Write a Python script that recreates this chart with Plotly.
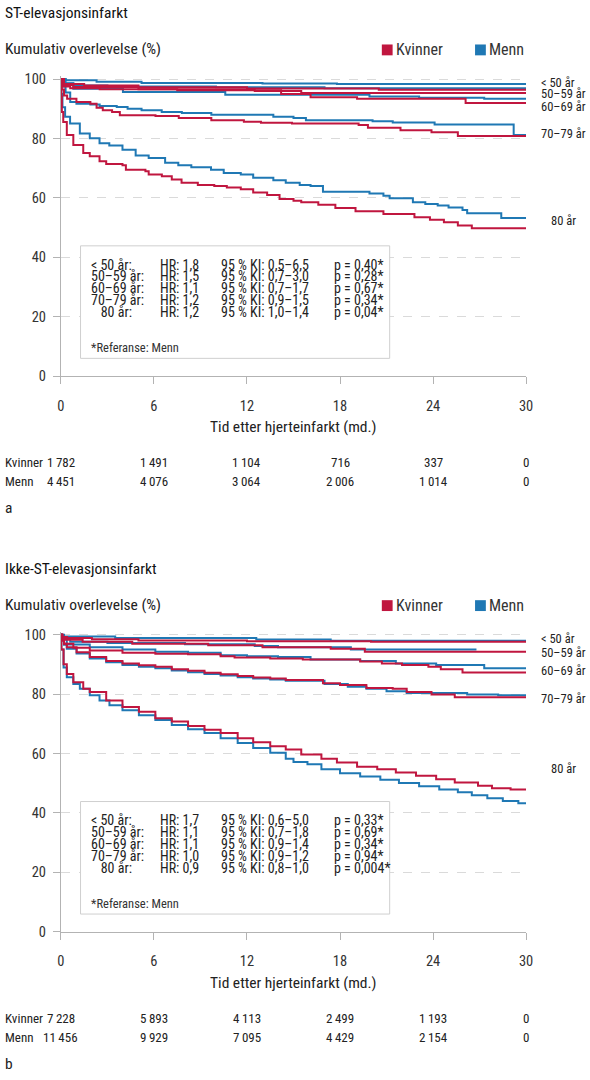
import plotly.graph_objects as go

W, H = 590, 1080
FONT = "Roboto Condensed, Roboto, sans-serif"
RED = "#c0163f"
BLUE = "#1f78b4"
GREY = "#b3b3b3"

# --- STEMI (panel a): Kaplan-Meier curves ---
a_k50_t = [0, 0.2, 1.5, 5.0, 12.0, 20.5, 30]
a_k50_s = [100, 98.3, 97.8, 97.2, 96.8, 96.4, 96.4]
a_m50_t = [0, 0.3, 2.3, 5.2, 13.0, 17.8, 30]
a_m50_s = [100, 99.6, 99.1, 98.7, 98.5, 98.3, 98.3]
a_k55_t = [0, 0.2, 0.8, 5.0, 12.5, 15.5, 30]
a_k55_s = [100, 98.0, 97.3, 96.6, 96.0, 95.3, 95.3]
a_m55_t = [0, 0.2, 0.8, 3.0, 10.0, 17.0, 30]
a_m55_s = [100, 98.6, 97.8, 97.5, 97.2, 96.9, 96.9]
a_k65_t = [0, 0.1, 0.6, 2.5, 7.5, 14.2, 16.1, 19.1, 26.1, 30]
a_k65_s = [100, 97.5, 96.9, 96.6, 96.2, 95.0, 93.9, 93.4, 91.9, 91.9]
a_m65_t = [0, 0.3, 0.8, 4.0, 10.6, 19.9, 23.1, 27.3, 30]
a_m65_s = [100, 98.5, 96.7, 95.6, 94.7, 94.1, 93.7, 93.4, 93.4]
a_k75_t = [0, 0.05, 0.2, 0.4, 1.0, 1.9, 2.3, 2.7, 3.3, 3.8, 6.1, 7.6, 9.7, 11.8, 12.9,
           14.9, 19.2, 19.8, 21.9, 23.9, 25.6, 30]
a_k75_s = [100, 96.5, 94.5, 93.4, 92.3, 91.7, 90.3, 89.5, 88.9, 87.8, 87.6, 86.9, 86.1, 85.6, 85.3,
           85.0, 84.5, 83.6, 82.8, 82.1, 80.8, 80.8]
a_m75_t = [0, 0.1, 0.3, 0.6, 1.0, 1.9, 2.5, 3.6, 4.3, 5.2, 6.5, 7.8, 9.7, 13.7, 15.0,
           15.8, 20.1, 21.4, 24.1, 29.2, 30]
a_m75_s = [100, 97.5, 95.5, 92.3, 91.7, 91.4, 90.9, 90.6, 90.0, 89.5, 88.9, 88.6, 88.0, 87.3, 86.9,
           86.1, 85.8, 85.4, 84.7, 81.2, 81.2]
a_k80_t = [0, 0.03, 0.06, 0.15, 0.38, 0.8, 1.44, 1.86, 2.49, 2.92, 3.97, 4.19, 5.45, 5.66, 6.51,
           7.15, 7.78, 8.83, 9.89, 10.7, 11.6, 12.4, 13.3, 14.1, 15.0, 15.5, 16.6, 17.7, 19.0,
           20.8, 22.8, 23.8, 24.7, 25.6, 26.5, 30]
a_k80_s = [100, 94.0, 88.9, 85.5, 81.2, 77.8, 75.1, 74.0, 72.3, 71.4, 71.0, 69.5, 69.0, 67.9, 67.3,
           66.2, 65.1, 64.3, 64.0, 63.5, 62.9, 61.8, 61.0, 59.6, 59.0, 58.5, 57.7, 56.6, 55.5,
           54.6, 53.5, 52.6, 51.8, 50.7, 49.8, 49.8]
a_m80_t = [0, 0.03, 0.1, 0.27, 0.59, 1.22, 1.86, 2.49, 3.12, 3.97, 4.82, 5.66, 6.72, 7.57, 8.41,
           9.68, 10.5, 11.6, 12.4, 13.7, 14.5, 15.4, 16.1, 16.9, 19.9, 20.8, 21.2, 22.7, 23.5,
           24.3, 25.0, 25.9, 26.2, 28.4, 30]
a_m80_s = [100, 95.0, 90.5, 87.3, 85.0, 81.7, 80.1, 78.4, 77.6, 76.2, 74.3, 73.4, 71.8, 71.0, 70.3,
           69.5, 68.4, 67.9, 66.8, 65.9, 65.1, 64.3, 64.0, 62.1, 61.5, 60.7, 59.9, 58.5, 57.9,
           57.4, 56.8, 55.9, 54.8, 53.2, 53.2]

# --- NSTEMI (panel b) ---
b_k50_t = [0, 0.1, 0.4, 2.0, 5.0, 12.0, 20.0, 30]
b_k50_s = [100, 99.2, 98.9, 98.5, 98.1, 97.8, 97.6, 97.6]
b_m50_t = [0, 0.2, 3.5, 12.6, 17.4, 30]
b_m50_s = [100, 99.4, 98.9, 98.4, 98.0, 98.0]
b_k55_t = [0, 0.1, 0.3, 1.4, 4.6, 9.5, 13.0, 17.4, 19.6, 30]
b_k55_s = [100, 99.0, 98.3, 97.6, 97.0, 96.5, 95.8, 95.3, 94.3, 94.3]
b_m55_t = [0, 0.1, 0.2, 0.6, 3.0, 8.0, 12.5, 14.0, 18.7, 26.8]
b_m55_s = [100, 99.2, 98.6, 97.6, 97.2, 96.8, 96.2, 95.8, 95.0, 95.0]
b_k65_t = [0, 0.05, 0.2, 0.8, 1.86, 3.97, 6.09, 8.2, 10.3, 11.2, 13.5, 15.6, 19.3, 20.7,
           22.0, 23.7, 24.5, 25.9, 30]
b_k65_s = [100, 98.0, 97.0, 95.6, 94.7, 93.9, 93.6, 93.4, 92.8, 92.3, 92.0, 91.7, 91.0, 90.3,
           89.8, 89.2, 88.4, 87.3, 87.3]
b_m65_t = [0, 0.05, 0.38, 1.86, 3.97, 6.09, 8.2, 10.3, 12.0, 14.0, 16.1, 19.3, 21.6, 24.2, 27.3, 30]
b_m65_s = [100, 98.5, 96.7, 95.8, 95.0, 94.3, 93.9, 93.1, 92.8, 92.5, 91.7, 91.2, 90.3, 89.8, 88.7, 88.7]
b_k75_t = [0, 0.05, 0.2, 0.38, 1.01, 1.86, 2.92, 3.97, 5.03, 6.09, 7.15, 8.2, 9.26, 10.3, 11.4,
           12.4, 13.5, 14.5, 16.9, 18.0, 19.7, 21.4, 22.3, 23.9, 25.4, 30]
b_k75_s = [100, 98.5, 97.0, 95.8, 94.1, 92.5, 91.2, 90.3, 89.7, 89.2, 88.4, 87.9, 87.2, 86.7, 86.1,
           85.6, 85.3, 84.8, 83.7, 83.1, 82.1, 81.8, 80.7, 79.9, 79.0, 79.0]
b_m75_t = [0, 0.05, 0.2, 0.38, 1.01, 1.86, 2.92, 3.97, 5.03, 6.09, 7.15, 8.2, 9.26, 10.3, 11.4,
           12.4, 13.5, 14.5, 17.0, 18.5, 19.7, 21.0, 22.3, 26.2, 28.2, 30]
b_m75_s = [100, 98.3, 96.6, 95.3, 93.7, 92.0, 90.7, 89.8, 89.2, 88.7, 88.0, 87.4, 86.8, 86.3, 85.7,
           85.3, 84.9, 84.5, 83.4, 82.5, 81.8, 81.0, 80.4, 79.9, 79.6, 79.6]
b_k80_t = [0, 0.03, 0.17, 0.38, 0.8, 1.44, 1.86, 2.92, 3.97, 5.03, 6.09, 7.15, 8.2, 9.26, 10.3,
           11.4, 12.4, 13.5, 14.5, 15.5, 16.8, 17.8, 19.1, 20.4, 21.6, 22.9, 24.2, 25.4, 26.9,
           27.8, 29.0, 30]
b_k80_s = [100, 95.0, 90.1, 86.8, 84.0, 81.8, 80.7, 77.9, 75.7, 74.1, 71.9, 70.8, 69.3, 68.0, 66.9,
           65.2, 63.8, 62.5, 61.4, 59.7, 58.3, 57.0, 55.6, 54.7, 53.6, 52.5, 51.4, 50.3, 49.2,
           48.3, 47.9, 47.9]
b_m80_t = [0, 0.03, 0.17, 0.38, 0.8, 1.22, 1.86, 2.49, 3.13, 3.97, 5.03, 6.09, 7.15, 8.2, 9.26,
           10.3, 11.4, 12.4, 13.5, 14.5, 15.0, 15.9, 16.8, 18.0, 19.3, 20.6, 21.8, 23.1, 24.4,
           25.6, 26.5, 27.5, 28.5, 29.5, 30]
b_m80_s = [100, 95.0, 89.0, 85.7, 83.4, 81.8, 79.6, 77.9, 76.3, 74.6, 72.9, 71.3, 69.6, 68.2, 66.9,
           65.2, 63.6, 61.9, 60.3, 58.3, 57.2, 56.4, 54.7, 53.4, 52.3, 51.2, 50.1, 49.0, 47.9,
           47.0, 46.0, 45.0, 44.0, 43.3, 43.3]

# --- text tables ---
ages = ["< 50 år", "50–59 år", "60–69 år", "70–79 år", "80 år"]
box_ages = ["< 50 år:", "50–59 år:", "60–69 år:", "70–79 år:", "\u00a0\u00a0\u00a080 år:"]
a_hr = ["1,8", "1,5", "1,1", "1,2", "1,2"]
a_ci = ["0,5–6,5", "0,7–3,0", "0,7–1,7", "0,9–1,5", "1,0–1,4"]
a_p = ["0,40", "0,28", "0,67", "0,34", "0,04"]
b_hr = ["1,7", "1,1", "1,1", "1,0", "0,9"]
b_ci = ["0,6–5,0", "0,7–1,8", "0,9–1,4", "0,9–1,2", "0,8–1,0"]
b_p = ["0,33", "0,69", "0,34", "0,94", "0,004"]

risk_t = [0, 6, 12, 18, 24, 30]
a_risk_k = [1782, 1491, 1104, 716, 337, 0]
a_risk_m = [4451, 4076, 3064, 2006, 1014, 0]
b_risk_k = [7228, 5893, 4113, 2499, 1193, 0]
b_risk_m = [11456, 9929, 7095, 4429, 2154, 0]


def px(v):
    return v / W


def py(v):
    return 1 - v / H


def fmt(n):
    return f"{n:,}".replace(",", "\u2009")


panels = [
    dict(dy=0, xa="x", ya="y", title="ST-elevasjonsinfarkt", letter="a",
         k=[(a_k50_t, a_k50_s), (a_k55_t, a_k55_s), (a_k65_t, a_k65_s), (a_k75_t, a_k75_s), (a_k80_t, a_k80_s)],
         m=[(a_m50_t, a_m50_s), (a_m55_t, a_m55_s), (a_m65_t, a_m65_s), (a_m75_t, a_m75_s), (a_m80_t, a_m80_s)],
         hr=a_hr, ci=a_ci, p=a_p, rk=a_risk_k, rm=a_risk_m,
         label_y=[99.0, 95.0, 90.7, 81.5, 52.5]),
    dict(dy=563, xa="x2", ya="y2", title="Ikke-ST-elevasjonsinfarkt", letter="b",
         k=[(b_k50_t, b_k50_s), (b_k55_t, b_k55_s), (b_k65_t, b_k65_s), (b_k75_t, b_k75_s), (b_k80_t, b_k80_s)],
         m=[(b_m50_t, b_m50_s), (b_m55_t, b_m55_s), (b_m65_t, b_m65_s), (b_m75_t, b_m75_s), (b_m80_t, b_m80_s)],
         hr=b_hr, ci=b_ci, p=b_p, rk=b_risk_k, rm=b_risk_m,
         label_y=[98.6, 94.0, 87.8, 78.6, 55.0]),
]

fig = go.Figure()
annotations = []
shapes = []
small = dict(family=FONT, size=13, color="#222")
boxf = dict(family=FONT, size=14, color="#222")
big = dict(family=FONT, size=15.5, color="#222")


def note(text, x, y, font, xref="paper", yref="paper", xanchor="left"):
    annotations.append(dict(text=text, x=x, y=y, xref=xref, yref=yref, xanchor=xanchor,
                            yanchor="middle", showarrow=False, font=font, borderpad=0))


for i, pnl in enumerate(panels):
    dy = pnl["dy"]
    # curves
    for (t, s) in pnl["m"]:
        fig.add_trace(go.Scatter(x=t, y=s, mode="lines", line=dict(color=BLUE, width=2, shape="hv"),
                                 xaxis=pnl["xa"], yaxis=pnl["ya"], showlegend=False, hoverinfo="skip"))
    for (t, s) in pnl["k"]:
        fig.add_trace(go.Scatter(x=t, y=s, mode="lines", line=dict(color=RED, width=2, shape="hv"),
                                 xaxis=pnl["xa"], yaxis=pnl["ya"], showlegend=False, hoverinfo="skip"))

    # axes
    sfx = "" if i == 0 else str(i + 1)
    fig.layout["xaxis" + sfx] = dict(
        domain=[px(58), px(532)], range=[0, 30], anchor="y" + sfx,
        tickvals=risk_t, ticks="outside", ticklen=7, tickcolor=GREY,
        showline=True, linecolor=GREY, linewidth=1, showgrid=False, zeroline=False,
        ticklabelstandoff=9, tickfont=dict(family=FONT, size=14.5, color="#333"))
    fig.layout["yaxis" + sfx] = dict(
        domain=[py(376 + dy), py(72 + dy)], range=[0, 101], anchor="x" + sfx,
        tickvals=[0, 20, 40, 60, 80, 100], ticks="outside", ticklen=7, tickcolor=GREY,
        showline=True, linecolor=GREY, linewidth=1, zeroline=False,
        showgrid=True, gridcolor="#dadada", griddash="dash", gridwidth=1,
        ticklabelstandoff=4, tickfont=dict(family=FONT, size=14.5, color="#333"))

    # headings
    note(pnl["title"], 0, py(8 + dy), dict(family=FONT, size=15.5, color="#111"))
    note("Kumulativ overlevelse (%)", 0, py(45 + dy), big)
    # legend
    for name, col, x0 in [("Kvinner", RED, 385), ("Menn", BLUE, 480)]:
        shapes.append(dict(type="rect", xref="paper", yref="paper", x0=px(x0), x1=px(x0 + 11),
                           y0=py(51 + dy), y1=py(40 + dy), fillcolor=col, line=dict(width=0)))
        note(name, px(x0 + 13), py(45 + dy), dict(family=FONT, size=16, color="#333"))
    # age labels at curve ends
    for j, (lab, ly) in enumerate(zip(ages, pnl["label_y"])):
        note(lab, px(556 if j == 4 else 546), ly, dict(family=FONT, size=12.5, color="#222"), yref=pnl["ya"])
    # hazard-ratio box
    shapes.append(dict(type="rect", xref="paper", yref="paper", x0=px(78), x1=px(393),
                       y0=py(358 + dy), y1=py(244 + dy), fillcolor="white",
                       line=dict(color="#cfcfcf", width=1), layer="above"))
    for r in range(5):
        yy = py(263 + 12 * r + dy)
        cells = [(88, box_ages[r]), (158, "HR: " + pnl["hr"][r]),
                 (220, "95 % KI: " + pnl["ci"][r]), (335, "p = " + pnl["p"][r] + "*")]
        for cx, txt in cells:
            note(txt, px(cx), yy, boxf)
    note("*Referanse: Menn", px(88), py(347 + dy), dict(family=FONT, size=12.5, color="#333"))
    # x title
    note("Tid etter hjerteinfarkt (md.)", 15, py(428 + dy), big, xref=pnl["xa"], xanchor="center")
    # number at risk
    for lab, vals, ry in [("Kvinner", pnl["rk"], 464), ("Menn", pnl["rm"], 483)]:
        note(lab, 0, py(ry + dy), small)
        for t, n in zip(risk_t, vals):
            note(fmt(n), t, py(ry + dy), small, xref=pnl["xa"], xanchor="center")
    note(pnl["letter"], 0, py(510 + dy), big)

fig.update_layout(
    width=W, height=H,
    margin=dict(l=0, r=0, t=0, b=0),
    paper_bgcolor="white", plot_bgcolor="white",
    showlegend=False,
    annotations=annotations,
    shapes=shapes,
    font=dict(family=FONT),
)

page_css = ("document.documentElement.style.margin='0';document.documentElement.style.overflow='hidden';"
            "document.body.style.margin='0';document.body.style.padding='0';document.body.style.overflow='hidden';")
fig.write_html("out.html", config={"displayModeBar": False}, post_script=page_css)
